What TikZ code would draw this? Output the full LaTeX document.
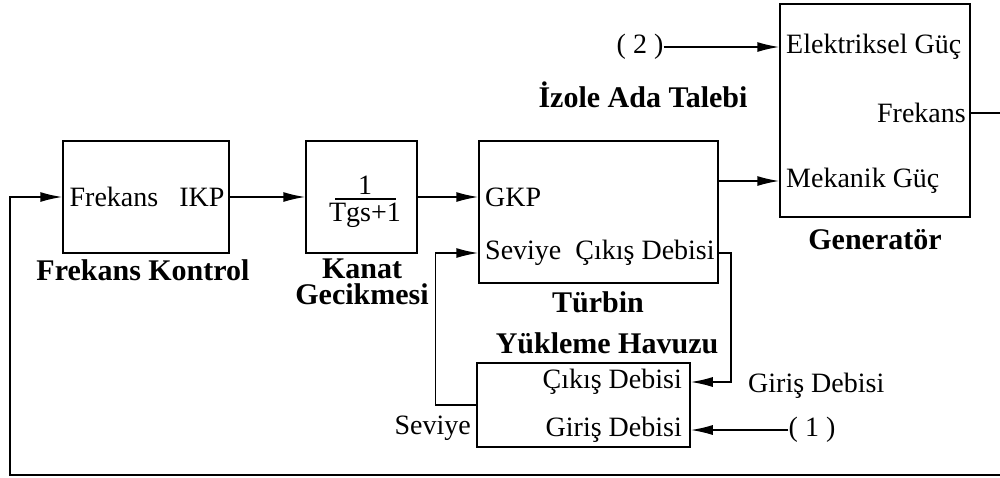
\documentclass[tikz,border=0pt]{standalone}
\usepackage{fontspec}
\setmainfont{Liberation Serif}
\usetikzlibrary{arrows.meta,calc}
\begin{document}
\begin{tikzpicture}[x=1pt,y=-1pt,
  blk/.style={draw, line width=1.5pt, inner sep=0pt},
  txt/.style={inner sep=0pt, font=\fontsize{28}{30}\selectfont},
  lbl/.style={inner sep=0pt, font=\fontsize{30}{30}\selectfont\bfseries},
  conn/.style={line width=1.5pt, -{Latex[length=22pt,width=10pt]}},
  plain/.style={line width=1.5pt}]
\useasboundingbox (0,0) rectangle (1000,477);
% blocks
\node[blk, minimum width=166pt, minimum height=112pt] (fk) at (146,197) {};
\node[blk, minimum width=111pt, minimum height=112pt] (kg) at (361.5,197) {};
\node[blk, minimum width=239pt, minimum height=142pt] (tb) at (598.5,212) {};
\node[blk, minimum width=190pt, minimum height=213pt] (gen) at (875,110.5) {};
\node[blk, minimum width=213pt, minimum height=84pt] (yh) at (583.5,405) {};
% inner texts
\node[txt] (fkt) at (147,197) {Frekans\ \ \ IKP};
\node[txt, anchor=south] (one) at (365,195) {1};
\node[txt, anchor=north] (den) at (365,203) {Tgs+1};
\draw[line width=1.3pt] (335,199) -- (396,199);
\node[txt, anchor=west] (gkp) at (485,197) {GKP};
\node[txt, anchor=west] (tsev) at (485,253) {Seviye\ \ Çıkış Debisi};
\node[txt, anchor=west] (elk) at (786,47) {Elektriksel Güç};
\node[txt, anchor=east] (frek) at (966,113) {Frekans};
\node[txt, anchor=west] (mek) at (786,181) {Mekanik Güç};
\node[txt, anchor=east] (ycik) at (682,382) {Çıkış Debisi};
\node[txt, anchor=east] (ygir) at (682,430) {Giriş Debisi};
% labels
\node[lbl] (lfk) at (143,270) {Frekans Kontrol};
\node[lbl, anchor=base] (lkg1) at (362,278) {Kanat};
\node[lbl, anchor=base] (lkg2) at (362,304) {Gecikmesi};
\node[lbl] (ltb) at (598,302) {Türbin};
\node[lbl] (lyh) at (607,343) {Yükleme Havuzu};
\node[lbl] (lgen) at (875,240) {Generatör};
\node[lbl] (lizo) at (643,95) {İzole Ada Talebi};
% inports
\node[txt] (in2) at (640,47) {(\hspace{7pt}2\hspace{7pt})};
\node[txt] (in1) at (812,430) {(\hspace{7pt}1\hspace{7pt})};
\node[txt, anchor=west] (lgir) at (748,386) {Giriş Debisi};
\node[txt, anchor=east] (lsev) at (471,428) {Seviye};
% feedback corner points
\coordinate (fbR) at (1001,475);
\coordinate (fbL) at (10,475);
% connectors
\draw[conn] (fk.east) -- (kg.west);
\draw[conn] (kg.east) -- (tb.west |- gkp.west);
\draw[conn] (tb.east |- mek.west) -- (gen.west |- mek.west);
\draw[conn] (in2.east) -- (gen.west |- in2.east);
\draw[conn] (tb.east |- tsev.west) -- ++(12,0) |- (yh.east |- ycik.east);
\draw[conn] (yh.west) -- ++(-41,0) |- (tb.west |- tsev.west);
\draw[conn] (in1.west) -- (yh.east |- in1.west);
\draw[conn] (gen.east |- frek.east) -| (fbR) -- (fbL) |- (fk.west);
\end{tikzpicture}
\end{document}
